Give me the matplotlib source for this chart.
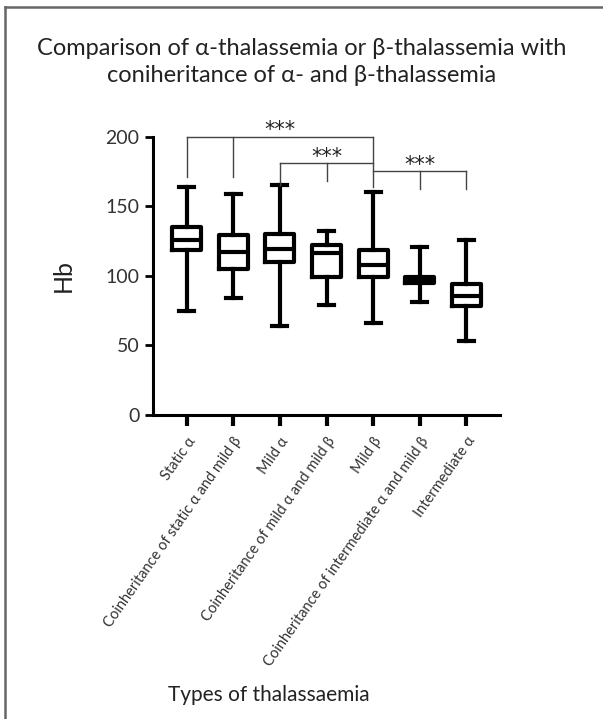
import matplotlib
matplotlib.use("Agg")
import matplotlib.pyplot as plt
from matplotlib.lines import Line2D

# --- data ---
categories = [
    "Static \u03b1",
    "Coinheritance of static \u03b1 and mild \u03b2",
    "Mild \u03b1",
    "Coinheritance of mild \u03b1 and mild \u03b2",
    "Mild \u03b2",
    "Coinheritance of intermediate \u03b1 and mild \u03b2",
    "Intermediate \u03b1",
]
whisker_low = [75, 84, 64, 79, 66, 81, 53]
q1 = [118.5, 105, 110, 99, 99, 95, 78.5]
median = [126, 117, 119, 116, 108, 97, 85.5]
q3 = [135, 129, 130, 122, 118.5, 99, 94]
whisker_high = [164, 159, 165, 132, 160, 121, 126]

# significance brackets: groups (1-based), bar height, leg bottoms
bracket_groups = [[1, 2, 5], [3, 4, 5], [5, 6, 7]]
bracket_heights = [200, 181, 175]
bracket_leg_ends = [[171, 171, 164], [165, 168, 181], [175, 162, 162]]
bracket_labels = ["***", "***", "***"]
star_x = [3, 4, 6]

FONT = ["Lato", "DejaVu Sans"]
plt.rcParams["font.family"] = FONT

fig = plt.figure(figsize=(6.03, 7.19), dpi=100)
ax = fig.add_axes([0.254, 0.423, 0.575, 0.387])

stats = []
for i in range(len(categories)):
    stats.append({
        "whislo": whisker_low[i], "q1": q1[i], "med": median[i],
        "q3": q3[i], "whishi": whisker_high[i], "fliers": [],
    })

pos = list(range(1, len(categories) + 1))
lw = 3.0
ax.bxp(stats, positions=pos, widths=0.62, showfliers=False,
       boxprops=dict(linewidth=lw, color="black"),
       medianprops=dict(linewidth=lw, color="black"),
       whiskerprops=dict(linewidth=lw, color="black"),
       capprops=dict(linewidth=lw, color="black"),
       capwidths=0.32)

# brackets
for grp, h, ends, lab, sx in zip(bracket_groups, bracket_heights,
                                 bracket_leg_ends, bracket_labels, star_x):
    ax.add_line(Line2D([grp[0], grp[-1]], [h, h], color="#444444",
                       lw=1.0, clip_on=False))
    for g, e in zip(grp, ends):
        ax.add_line(Line2D([g, g], [h, e], color="#444444", lw=1.0,
                           clip_on=False))
    ax.text(sx, h - 2.5, lab, ha="center", va="bottom", fontsize=15,
            family="DejaVu Sans", color="#222222")

ax.set_xlim(0.28, 7.72)
ax.set_ylim(0, 200)
ax.set_yticks([0, 50, 100, 150, 200])
ax.set_xticks(pos)
ax.set_xticklabels(categories, rotation=55, ha="right",
                   rotation_mode="anchor", fontsize=10.5, color="#333333")
ax.tick_params(axis="y", labelsize=14, length=6, width=2, colors="black",
               labelcolor="#333333", pad=4)
ax.tick_params(axis="x", length=8, width=3, pad=6)
for s in ["top", "right"]:
    ax.spines[s].set_visible(False)
for s in ["left", "bottom"]:
    ax.spines[s].set_linewidth(2.2)

ax.set_ylabel("Hb", fontsize=18, labelpad=22, color="#222222")
fig.text(0.445, 0.033, "Types of thalassaemia", ha="center", va="center",
         fontsize=15, color="#222222")
fig.text(0.5, 0.914,
         "Comparison of \u03b1-thalassemia or \u03b2-thalassemia with\n"
         "coniheritance of \u03b1- and \u03b2-thalassemia",
         ha="center", va="center", fontsize=17, color="#222222",
         linespacing=1.35)

# frame lines on the left and top of the page
fig.add_artist(Line2D([0.009, 0.009], [0, 0.99], color="#666666", lw=1.8,
                      transform=fig.transFigure))
fig.add_artist(Line2D([0.009, 1.0], [0.99, 0.99], color="#666666", lw=1.8,
                      transform=fig.transFigure))

fig.savefig("out.png", dpi=100, facecolor="white")
